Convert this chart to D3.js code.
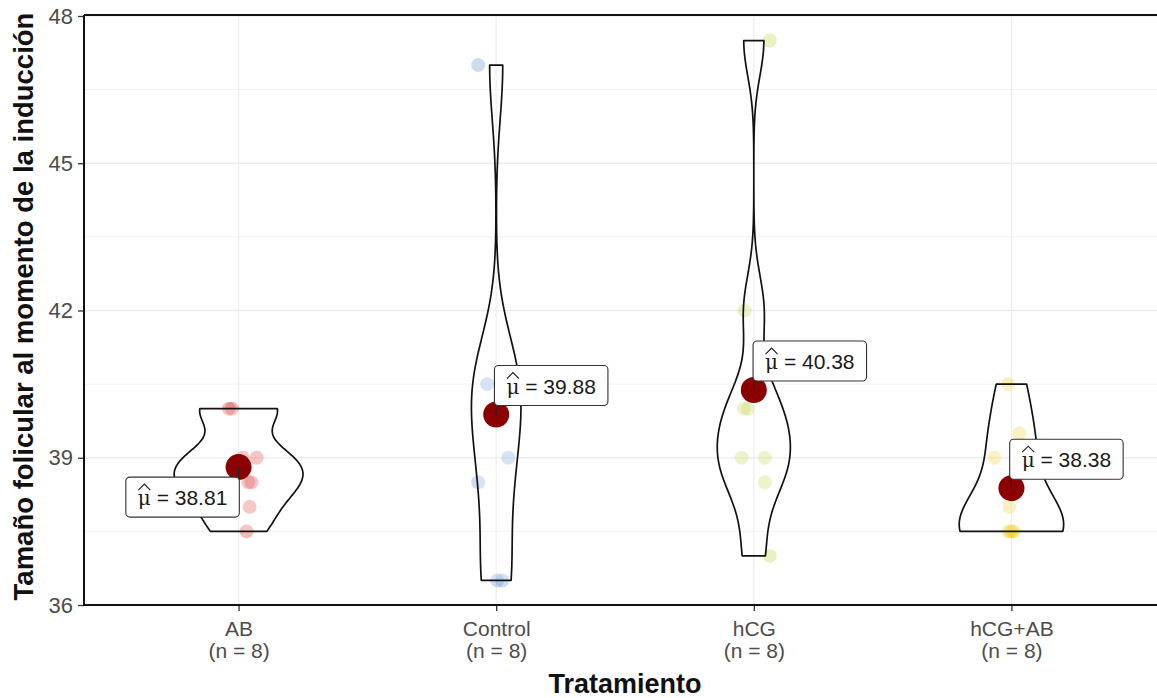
<!DOCTYPE html>
<html>
<head>
<meta charset="utf-8">
<script src="https://cdn.jsdelivr.net/npm/d3@7"></script>
<style>
  body { margin: 0; background: #ffffff; }
  svg { display: block; }
</style>
</head>
<body>
<svg id="chart" width="1157" height="698"></svg>
<script>
// ---- data -------------------------------------------------------------
const groups = ["AB", "Control", "hCG", "hCG+AB"];
const sampleSizes = [8, 8, 8, 8];
const valuesAB      = [40, 40, 39, 39, 38.5, 38.5, 38, 37.5];
const valuesControl = [47, 40.5, 40.5, 40.5, 39, 38.5, 36.5, 36.5];
const valuesHCG     = [47.5, 42, 40, 40, 39, 39, 38.5, 37];
const valuesHCGAB   = [40.5, 39.5, 39, 38, 37.5, 37.5, 37.5, 37.5];
const meanValues = [38.81, 39.88, 40.38, 38.38];
const yTicks = [36, 39, 42, 45, 48];
const yMinorTicks = [37.5, 40.5, 43.5, 46.5];
const yTitle = "Tamaño folicular al momento de la inducción";
const xTitle = "Tratamiento";

// horizontal jitter of each point, as a share of the category step
const jitterAB      = [-0.038, -0.026, 0.07, 0.016, 0.05, 0.038, 0.043, 0.031];
const jitterControl = [-0.07, -0.035, 0.02, 0.045, 0.047, -0.07, 0.004, 0.023];
const jitterHCG     = [0.062, -0.035, -0.039, -0.023, -0.047, 0.043, 0.043, 0.062];
const jitterHCGAB   = [-0.012, 0.031, -0.066, -0.008, -0.012, -0.004, 0.004, 0.008];

const allValues = [valuesAB, valuesControl, valuesHCG, valuesHCGAB];
const allJitter = [jitterAB, jitterControl, jitterHCG, jitterHCGAB];
const pointColors = ["#d7191c", "#5b8fd2", "#b7d12e", "#f2cb0a"];

// ---- layout ------------------------------------------------------------
const W = 1157, H = 698;
const panel = { left: 84, top: 16, bottom: 605, right: 1166 };
const svg = d3.select("#chart");
const sans = "Liberation Sans, Arial, sans-serif";

const x = d3.scalePoint().domain(groups).range([panel.left, panel.right]).padding(0.6);
const y = d3.scaleLinear().domain([36, 48]).range([panel.bottom, panel.top]);
const step = x.step();

// ---- grid ---------------------------------------------------------------
const grid = svg.append("g");
grid.selectAll("line.minor").data(yMinorTicks).join("line")
  .attr("x1", panel.left).attr("x2", W)
  .attr("y1", d => y(d)).attr("y2", d => y(d))
  .attr("stroke", "#f3f3f3").attr("stroke-width", 1);
grid.selectAll("line.major").data(yTicks).join("line")
  .attr("x1", panel.left).attr("x2", W)
  .attr("y1", d => y(d)).attr("y2", d => y(d))
  .attr("stroke", "#ebebeb").attr("stroke-width", 1.3);
grid.selectAll("line.vert").data(groups).join("line")
  .attr("x1", d => x(d)).attr("x2", d => x(d))
  .attr("y1", panel.top).attr("y2", panel.bottom)
  .attr("stroke", "#ededed").attr("stroke-width", 1.3);

// ---- kernel density (Gaussian, Silverman nrd0 bandwidth, trimmed) -------
function quantile7(sorted, p) {
  const h = (sorted.length - 1) * p;
  const lo = Math.floor(h), hi = Math.ceil(h);
  return sorted[lo] + (h - lo) * (sorted[hi] - sorted[lo]);
}
function bwNrd0(vals) {
  const s = vals.slice().sort((a, b) => a - b);
  const sd = d3.deviation(vals);
  const iqr = quantile7(s, 0.75) - quantile7(s, 0.25);
  let lo = Math.min(sd, iqr / 1.34);
  if (!(lo > 0)) lo = sd || Math.abs(s[0]) || 1;
  return 0.9 * lo * Math.pow(vals.length, -0.2);
}
function densityCurve(vals) {
  const bw = bwNrd0(vals);
  const [lo, hi] = d3.extent(vals);
  const n = 512;
  const out = [];
  for (let i = 0; i < n; i++) {
    const v = lo + (hi - lo) * i / (n - 1);
    let s = 0;
    for (const xi of vals) {
      const z = (v - xi) / bw;
      s += Math.exp(-0.5 * z * z) / Math.sqrt(2 * Math.PI);
    }
    out.push({ v, d: s / (vals.length * bw) });
  }
  return out;
}
const curves = allValues.map(densityCurve);
const maxDensity = d3.max(curves, c => d3.max(c, p => p.d));
const violinHalf = d3.scaleLinear().domain([0, maxDensity]).range([0, step * 0.25]);

// ---- points ---------------------------------------------------------------
const pts = svg.append("g");
groups.forEach((g, gi) => {
  pts.selectAll(null).data(allValues[gi]).join("circle")
    .attr("cx", (d, i) => x(g) + allJitter[gi][i] * step)
    .attr("cy", d => y(d))
    .attr("r", 7)
    .attr("fill", pointColors[gi])
    .attr("fill-opacity", 0.3);
});

// ---- violins ------------------------------------------------------------
const violins = svg.append("g");
groups.forEach((g, gi) => {
  const cx = x(g);
  const area = d3.area()
    .y(p => y(p.v))
    .x0(p => cx - violinHalf(p.d))
    .x1(p => cx + violinHalf(p.d));
  violins.append("path")
    .attr("d", area(curves[gi]))
    .attr("fill", "#ffffff").attr("fill-opacity", 0.2)
    .attr("stroke", "#111111").attr("stroke-width", 1.7)
    .attr("stroke-linejoin", "round");
});

// ---- axes -----------------------------------------------------------------
const axisCol = "#4d4d4d";
const yAxis = svg.append("g")
  .attr("transform", `translate(${panel.left},0)`)
  .call(d3.axisLeft(y).tickValues(yTicks).tickSize(6).tickPadding(5).tickFormat(d3.format("d")));
yAxis.select(".domain").remove();
yAxis.selectAll(".tick line").attr("stroke", "#333").attr("stroke-width", 1.3);
yAxis.selectAll(".tick text").attr("fill", axisCol)
  .style("font-family", sans).style("font-size", "22px");

const xAxis = svg.append("g")
  .attr("transform", `translate(0,${panel.bottom})`)
  .call(d3.axisBottom(x).tickSize(6).tickFormat(""));
xAxis.select(".domain").remove();
xAxis.selectAll(".tick line").attr("stroke", "#333").attr("stroke-width", 1.3);
xAxis.selectAll(".tick").each(function (d, i) {
  const t = d3.select(this).append("text")
    .attr("fill", axisCol).attr("text-anchor", "middle")
    .style("font-family", sans).style("font-size", "21px");
  t.append("tspan").attr("x", 0).attr("y", 31).text(d);
  t.append("tspan").attr("x", 0).attr("y", 53).text(`(n = ${sampleSizes[i]})`);
});

// panel frame lines
svg.append("line").attr("x1", panel.left).attr("x2", panel.left)
  .attr("y1", panel.top - 1).attr("y2", panel.bottom + 1)
  .attr("stroke", "#111").attr("stroke-width", 2);
svg.append("line").attr("x1", panel.left).attr("x2", W)
  .attr("y1", panel.bottom).attr("y2", panel.bottom)
  .attr("stroke", "#111").attr("stroke-width", 2);
svg.append("line").attr("x1", panel.left).attr("x2", W)
  .attr("y1", panel.top - 1).attr("y2", panel.top - 1)
  .attr("stroke", "#111").attr("stroke-width", 2.2);

// axis titles
svg.append("text")
  .attr("transform", `translate(33,${(panel.top + panel.bottom) / 2 - 4}) rotate(-90)`)
  .attr("text-anchor", "middle")
  .style("font-family", sans)
  .style("font-size", "27.5px").style("font-weight", "bold")
  .attr("fill", "#111").text(yTitle);
svg.append("text")
  .attr("x", (panel.left + panel.right) / 2).attr("y", 693)
  .attr("text-anchor", "middle")
  .style("font-family", sans)
  .style("font-size", "27px").style("font-weight", "bold")
  .attr("fill", "#111").text(xTitle);

// ---- means and their labels ----------------------------------------------
const labelSide = [[-56, 30], [55, -29], [56, -29], [55, -29]];
const meansG = svg.append("g");
groups.forEach((g, gi) => {
  const mx = x(g), my = y(meanValues[gi]);
  meansG.append("circle").attr("cx", mx).attr("cy", my).attr("r", 13)
    .attr("fill", "#8b0000");

  const lg = meansG.append("g");
  const bx = mx + labelSide[gi][0], by = my + labelSide[gi][1];
  const mu = lg.append("text")
    .style("font-family", "DejaVu Serif, serif").style("font-size", "20px")
    .attr("fill", "#1a1a1a").text("μ");
  const rest = lg.append("text")
    .style("font-family", sans).style("font-size", "21px")
    .style("white-space", "pre")
    .attr("fill", "#1a1a1a").text(" = " + d3.format(".2f")(meanValues[gi]));
  const muW = mu.node().getComputedTextLength();
  const restW = rest.node().getComputedTextLength();
  const tw = muW + restW;
  const boxW = tw + 24, boxH = 40;
  const left = bx - boxW / 2, top = by - boxH / 2;

  // leader segment from the mean to the label box
  const nxp = Math.max(left, Math.min(mx, left + boxW));
  const nyp = Math.max(top, Math.min(my, top + boxH));
  lg.insert("line", ":first-child")
    .attr("x1", mx).attr("y1", my).attr("x2", nxp).attr("y2", nyp)
    .attr("stroke", "#222").attr("stroke-width", 1.2);
  lg.insert("rect", "text")
    .attr("x", left).attr("y", top).attr("width", boxW).attr("height", boxH)
    .attr("rx", 4).attr("fill", "#ffffff").attr("stroke", "#333").attr("stroke-width", 1.1);

  const tx = bx - tw / 2, base = by + 8;
  mu.attr("x", tx).attr("y", base);
  rest.attr("x", tx + muW).attr("y", base);
  // wide hat over mu
  lg.append("path")
    .attr("d", `M${tx + 0.5},${base - 15} L${tx + muW / 2},${base - 21} L${tx + muW - 0.5},${base - 15}`)
    .attr("fill", "none").attr("stroke", "#1a1a1a").attr("stroke-width", 1.1);
});
</script>
</body>
</html>
